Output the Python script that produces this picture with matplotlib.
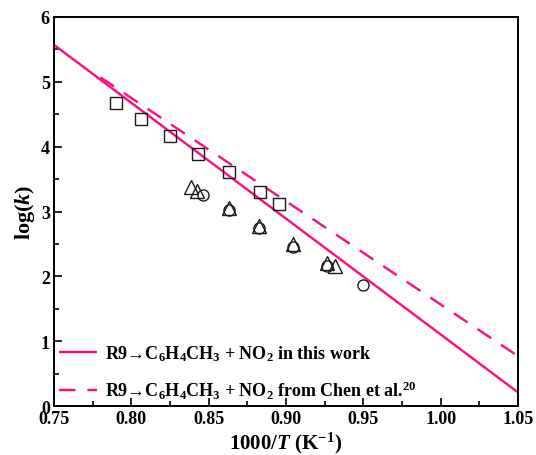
import matplotlib
matplotlib.use("Agg")
import matplotlib.pyplot as plt
import numpy as np

# Data
line_this_x = [0.75, 1.05]
line_this_y = [5.57, 0.21]
line_chen_x = [0.78, 1.05]
line_chen_y = [5.07, 0.77]

sq_x = [0.7899, 0.8064, 0.8252, 0.8433, 0.8630, 0.8834, 0.8955]
sq_y = [4.67, 4.42, 4.16, 3.89, 3.61, 3.30, 3.11]

tri_x = [0.8384, 0.8425, 0.8630, 0.8827, 0.9045, 0.9265, 0.9315]
tri_y = [3.38, 3.31, 3.06, 2.78, 2.50, 2.21, 2.16]

cir_x = [0.8463, 0.8630, 0.8827, 0.9045, 0.9265, 0.9498]
cir_y = [3.25, 3.03, 2.75, 2.46, 2.16, 1.86]

xticks = [0.75, 0.80, 0.85, 0.90, 0.95, 1.00, 1.05]
yticks = [0, 1, 2, 3, 4, 5, 6]

plt.rcParams['font.family'] = ['Liberation Serif', 'DejaVu Serif']
plt.rcParams['mathtext.fontset'] = 'custom'
plt.rcParams['mathtext.rm'] = 'Liberation Serif:bold'
plt.rcParams['mathtext.it'] = 'Liberation Serif:italic:bold'
plt.rcParams['mathtext.bf'] = 'Liberation Serif:bold'

pink = '#FF0A82'

fig = plt.figure(figsize=(5.36, 4.56), dpi=100)
ax = fig.add_axes([54/536, 1-407/456, (518-54)/536, (407-18)/456])

ax.plot(line_this_x, line_this_y, color=pink, lw=1.7, solid_capstyle='butt',
        label='R9\u2192C$_6$H$_4$CH$_3$ + NO$_2$ in this work')
ax.plot(line_chen_x, line_chen_y, color=pink, lw=1.7, dashes=(7, 5),
        label='R9\u2192C$_6$H$_4$CH$_3$ + NO$_2$ from Chen et al.$^{20}$')

ax.plot(sq_x, sq_y, 's', ms=8.5, mfc='none', mec='#1a1a1a', mew=1.0, ls='none')
ax.plot(tri_x, tri_y, '^', ms=10.5, mfc='none', mec='#1a1a1a', mew=1.0, ls='none')
ax.plot(cir_x, cir_y, 'o', ms=8, mfc='none', mec='#1a1a1a', mew=1.0, ls='none')

ax.set_xlim(0.75, 1.05)
ax.set_ylim(0, 6)
ax.set_xticks(xticks)
ax.set_xticklabels([f'{v:.2f}' for v in xticks])
ax.set_yticks(yticks)
ax.set_yticklabels([str(v) for v in yticks])
ax.set_xticks(np.arange(0.775, 1.05, 0.05), minor=True)
ax.set_yticks(np.arange(0.5, 6, 1.0), minor=True)
ax.tick_params(which='both', direction='in', top=False, right=False, width=1.2)
ax.tick_params(which='major', length=6, labelsize=13, pad=3)
ax.tick_params(which='minor', length=3.5)
for lab in ax.get_xticklabels() + ax.get_yticklabels():
    lab.set_fontweight('bold')
for s in ax.spines.values():
    s.set_linewidth(1.4)

ax.set_xlabel(r'1000/$\mathit{T}$ (K$^{-1}$)', fontsize=15, fontweight='bold', labelpad=2)
ax.set_ylabel(r'log($\mathit{k}$)', fontsize=16, fontweight='bold', labelpad=3)

leg = ax.legend(loc='lower left', frameon=False, fontsize=13, handlelength=2.1,
                borderaxespad=0.0, labelspacing=0.85, handletextpad=0.4,
                borderpad=0.3, bbox_to_anchor=(0.0, 0.0))
for t in leg.get_texts():
    t.set_fontweight('bold')

fig.savefig('out.png', dpi=100)
